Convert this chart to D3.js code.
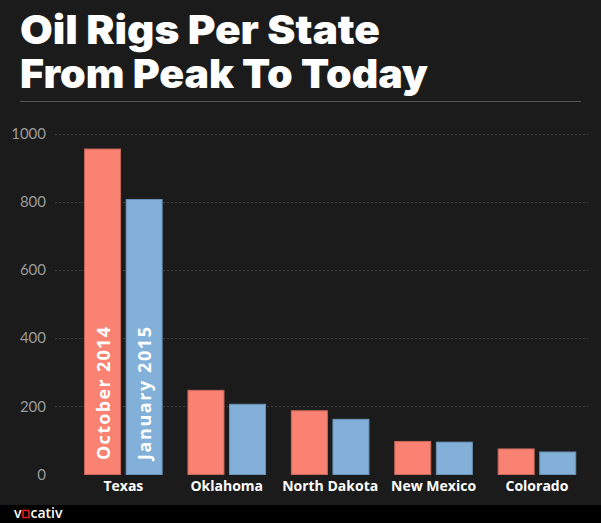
<!DOCTYPE html>
<html>
<head>
<meta charset="utf-8">
<script src="https://cdn.jsdelivr.net/npm/d3@7"></script>
<style>
  html, body { margin: 0; padding: 0; background: #1b1b1b; }
  svg { display: block; }
</style>
</head>
<body>
<script>
const states = ["Texas", "Oklahoma", "North Dakota", "New Mexico", "Colorado"];
const seriesNames = ["October 2014", "January 2015"];
const oct2014 = [955, 247, 187, 97, 75];
const jan2015 = [807, 206, 162, 95, 66];
const yTicks = [0, 200, 400, 600, 800, 1000];
const colors = ["#f98272", "#82b0d8"];
const strokes = ["#c9685b", "#6a92b6"];

const W = 601, H = 523;
const svg = d3.select("body").append("svg").attr("width", W).attr("height", H);

svg.append("rect").attr("width", W).attr("height", H).attr("fill", "#1b1b1b");

// Title
const titleFont = "Inter, 'DejaVu Sans', sans-serif";
svg.append("text").attr("x", 20).attr("y", 44)
  .attr("font-family", titleFont).attr("font-weight", 900).attr("font-size", 40)
  .attr("fill", "#ffffff").attr("textLength", 360).attr("lengthAdjust", "spacingAndGlyphs")
  .text("Oil Rigs Per State");
svg.append("text").attr("x", 20).attr("y", 88)
  .attr("font-family", titleFont).attr("font-weight", 900).attr("font-size", 40)
  .attr("fill", "#ffffff").attr("textLength", 408).attr("lengthAdjust", "spacingAndGlyphs")
  .text("From Peak To Today");
svg.append("line").attr("x1", 20).attr("x2", 581).attr("y1", 101.5).attr("y2", 101.5)
  .attr("stroke", "#555").attr("stroke-width", 1);

// Scales
const y = d3.scaleLinear().domain([0, 1000]).range([474.5, 133.7]);
const x0 = d3.scaleBand().domain(states).range([71.65, 588.65]).paddingInner(0.24).paddingOuter(0.12);
const x1 = d3.scaleBand().domain(seriesNames).range([0, x0.bandwidth()]).paddingInner(0.11);

// Grid
const gridG = svg.append("g");
gridG.selectAll("line").data(yTicks.filter(d => d > 0)).join("line")
  .attr("x1", 55).attr("x2", 588)
  .attr("y1", d => Math.round(y(d)) + 0.5).attr("y2", d => Math.round(y(d)) + 0.5)
  .attr("stroke", "#3f3f3f").attr("stroke-width", 1).attr("stroke-dasharray", "2,2");

// Y axis
const yAxis = d3.axisLeft(y).tickValues(yTicks).tickFormat(d3.format("d")).tickSize(0).tickPadding(0);
const yg = svg.append("g").attr("transform", "translate(46,0)").call(yAxis);
yg.select(".domain").remove();
yg.selectAll("text").attr("fill", "#9a9a9a").attr("font-size", 15)
  .attr("font-family", "Lato, 'Open Sans', sans-serif").attr("font-weight", 400);

// Bars
const rows = states.map((s, i) => ({ state: s, values: [
  { key: seriesNames[0], v: oct2014[i], k: 0 },
  { key: seriesNames[1], v: jan2015[i], k: 1 }
]}));

const groups = svg.append("g").selectAll("g").data(rows).join("g")
  .attr("transform", d => `translate(${x0(d.state)},0)`);
groups.selectAll("rect").data(d => d.values).join("rect")
  .attr("x", d => x1(d.key) + 0.5)
  .attr("y", d => y(d.v))
  .attr("width", x1.bandwidth() - 1)
  .attr("height", d => y(0) - y(d.v))
  .attr("fill", d => colors[d.k])
  .attr("stroke", d => strokes[d.k]).attr("stroke-width", 1);

// Series labels inside Texas bars
const tx = x0(states[0]);
seriesNames.forEach((name, k) => {
  const cx = tx + x1(name) + x1.bandwidth() / 2;
  svg.append("text")
    .attr("transform", `translate(${cx + 7},460) rotate(-90)`)
    .attr("font-family", "'Open Sans', sans-serif").attr("font-weight", 700)
    .attr("font-size", 18).attr("fill", "#ffffff")
    .attr("textLength", 133).attr("lengthAdjust", "spacing")
    .text(name);
});

// X axis labels
const xAxis = d3.axisBottom(x0).tickSize(0).tickPadding(0);
const xg = svg.append("g").attr("transform", "translate(0,481)").call(xAxis);
xg.select(".domain").remove();
xg.selectAll("text").attr("fill", "#ffffff").attr("font-size", 14)
  .attr("font-family", "'Open Sans', sans-serif").attr("font-weight", 700);

// Footer
svg.append("rect").attr("x", 0).attr("y", 505).attr("width", W).attr("height", H - 505).attr("fill", "#000");
svg.append("text").attr("x", 14).attr("y", 518)
  .attr("font-family", "'Open Sans', sans-serif").attr("font-size", 14).attr("font-weight", 600)
  .attr("fill", "#fff").text("v");
svg.append("rect").attr("x", 23).attr("y", 510.5).attr("width", 6).attr("height", 7)
  .attr("fill", "none").attr("stroke", "#e0201b").attr("stroke-width", 1.6);
svg.append("text").attr("x", 30.5).attr("y", 518)
  .attr("font-family", "'Open Sans', sans-serif").attr("font-size", 14).attr("font-weight", 600)
  .attr("fill", "#fff").text("cativ");
</script>
</body>
</html>
